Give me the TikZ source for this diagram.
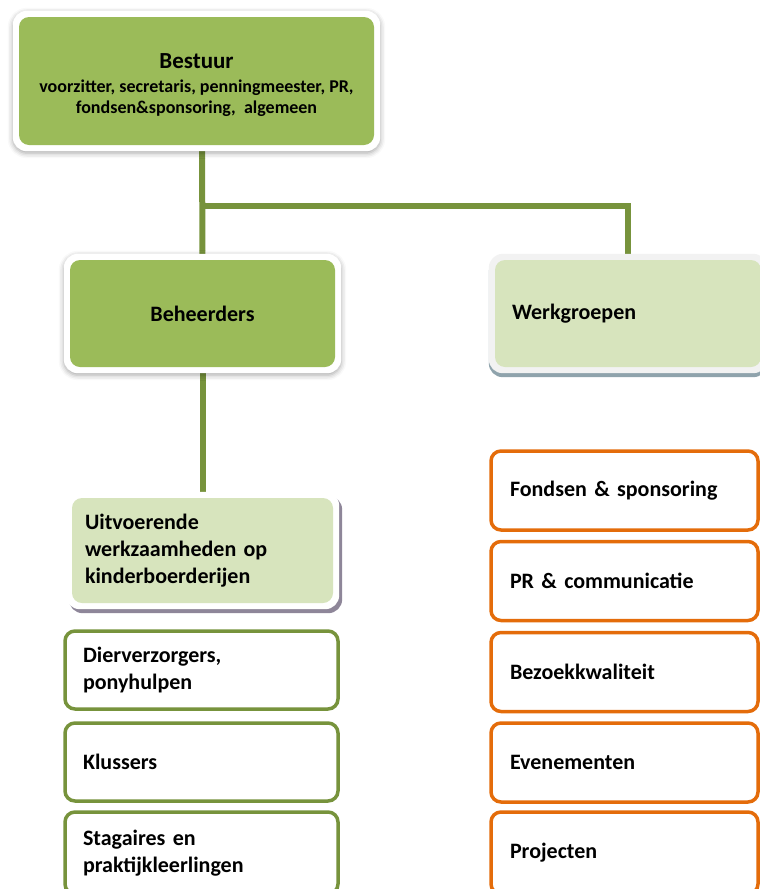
\documentclass[tikz,border=0pt]{standalone}
\usepackage{fontspec}
\setmainfont{Carlito}
\usetikzlibrary{shadows,shadows.blur,fit,backgrounds}

\definecolor{leafgreen}{RGB}{155,187,89}
\definecolor{palegreen}{RGB}{215,228,189}
\definecolor{olivegreen}{RGB}{119,147,60}
\definecolor{pumpkin}{RGB}{228,108,10}
\definecolor{steelgrey}{RGB}{143,163,172}
\definecolor{mauvegrey}{RGB}{142,134,153}

\tikzset{
  boxfont/.style={font=\fontsize{22}{27}\selectfont\bfseries},
  topbox/.style={rectangle, rounded corners=10pt, fill=leafgreen, align=center,
    font=\fontsize{18}{20.5}\selectfont\bfseries,
    minimum width=355, minimum height=128, inner sep=0pt},
  headbox/.style={rectangle, rounded corners=10pt, fill=leafgreen, boxfont,
    minimum width=265, minimum height=107, inner sep=0pt},
  groupbox/.style={rectangle, rounded corners=10pt, fill=palegreen, boxfont,
    align=left, inner ysep=0pt},
  taskbox/.style={rectangle, rounded corners=10pt, draw=olivegreen, line width=3.5pt,
    fill=white, boxfont, align=left, minimum width=273, text width=237,
    inner xsep=18pt, inner ysep=0pt, minimum height=78},
  teambox/.style={rectangle, rounded corners=10pt, draw=pumpkin, line width=3.5pt,
    fill=white, boxfont, align=left, minimum width=267, text width=229,
    inner xsep=19pt, inner ysep=0pt, minimum height=79},
  frame/.style={rectangle, rounded corners=14pt, fill=white, inner sep=6pt},
  trunk/.style={draw=olivegreen, line width=6pt},
}

\begin{document}
\begin{tikzpicture}[x=1pt,y=1pt,yscale=-1]
\useasboundingbox (0,0) rectangle (760,889);

% top of the tree
\node[topbox] (bestuur) at (196.5,81) {{\fontsize{23}{26}\selectfont\rule{0pt}{23pt}Bestuur}\\[4pt]
  voorzitter, secretaris, penningmeester, PR,\\
  fondsen\&sponsoring,\ \ algemeen};

\coordinate (fork) at (202,205.5);

% second row
\node[headbox] (beheerders) at (202.5,313.5) {Beheerders};
\node[groupbox, minimum width=266, minimum height=107, text width=232, inner xsep=17pt]
  (werkgroepen) at (628,313.5) {Werkgroepen};

% left column
\node[groupbox, minimum width=261, minimum height=105, text width=235, inner xsep=13pt]
  (uitvoerend) at (202.5,550.5) {Uitvoerende\\ werkzaamheden op\\ kinderboerderijen};
\node[taskbox] (dierverzorgers) at (201.5,670) {Dierverzorgers,\\ ponyhulpen};
\node[taskbox] (klussers) at (201.5,762) {Klussers};
\node[taskbox, minimum height=82] (stagaires) at (201.5,853) {Stagaires en\\ praktijkleerlingen};

% right column
\node[teambox] (fondsen) at (624.5,490.5) {Fondsen \& sponsoring};
\node[teambox] (pr) at (624.5,581) {PR \& communicatie};
\node[teambox] (bezoek) at (624.5,672) {Bezoekkwaliteit};
\node[teambox] (evenementen) at (624.5,762.5) {Evenementen};
\node[teambox, minimum height=82] (projecten) at (624.5,853) {Projecten};

% connectors and frames behind the boxes
\begin{scope}[on background layer]
  \draw[trunk] (bestuur.south -| fork) -- (beheerders.north);
  \draw[trunk] (fork) -| (werkgroepen.north);
  \draw[trunk] (beheerders.south) -- (uitvoerend.north);
  \node[frame, fit=(bestuur), blur shadow={shadow xshift=0pt, shadow yshift=-2pt,
    shadow blur radius=5pt, shadow opacity=35}] {};
  \node[frame, fit=(beheerders), blur shadow={shadow xshift=0pt, shadow yshift=-2pt,
    shadow blur radius=5pt, shadow opacity=35}] {};
  \node[frame, fill=white!95!black, fit=(werkgroepen),
    drop shadow={fill=steelgrey, opacity=1, shadow xshift=0pt, shadow yshift=-4pt}] {};
  \node[frame, fit=(uitvoerend),
    drop shadow={fill=mauvegrey, opacity=1, shadow xshift=3pt, shadow yshift=-4pt}] {};
\end{scope}

\end{tikzpicture}
\end{document}
